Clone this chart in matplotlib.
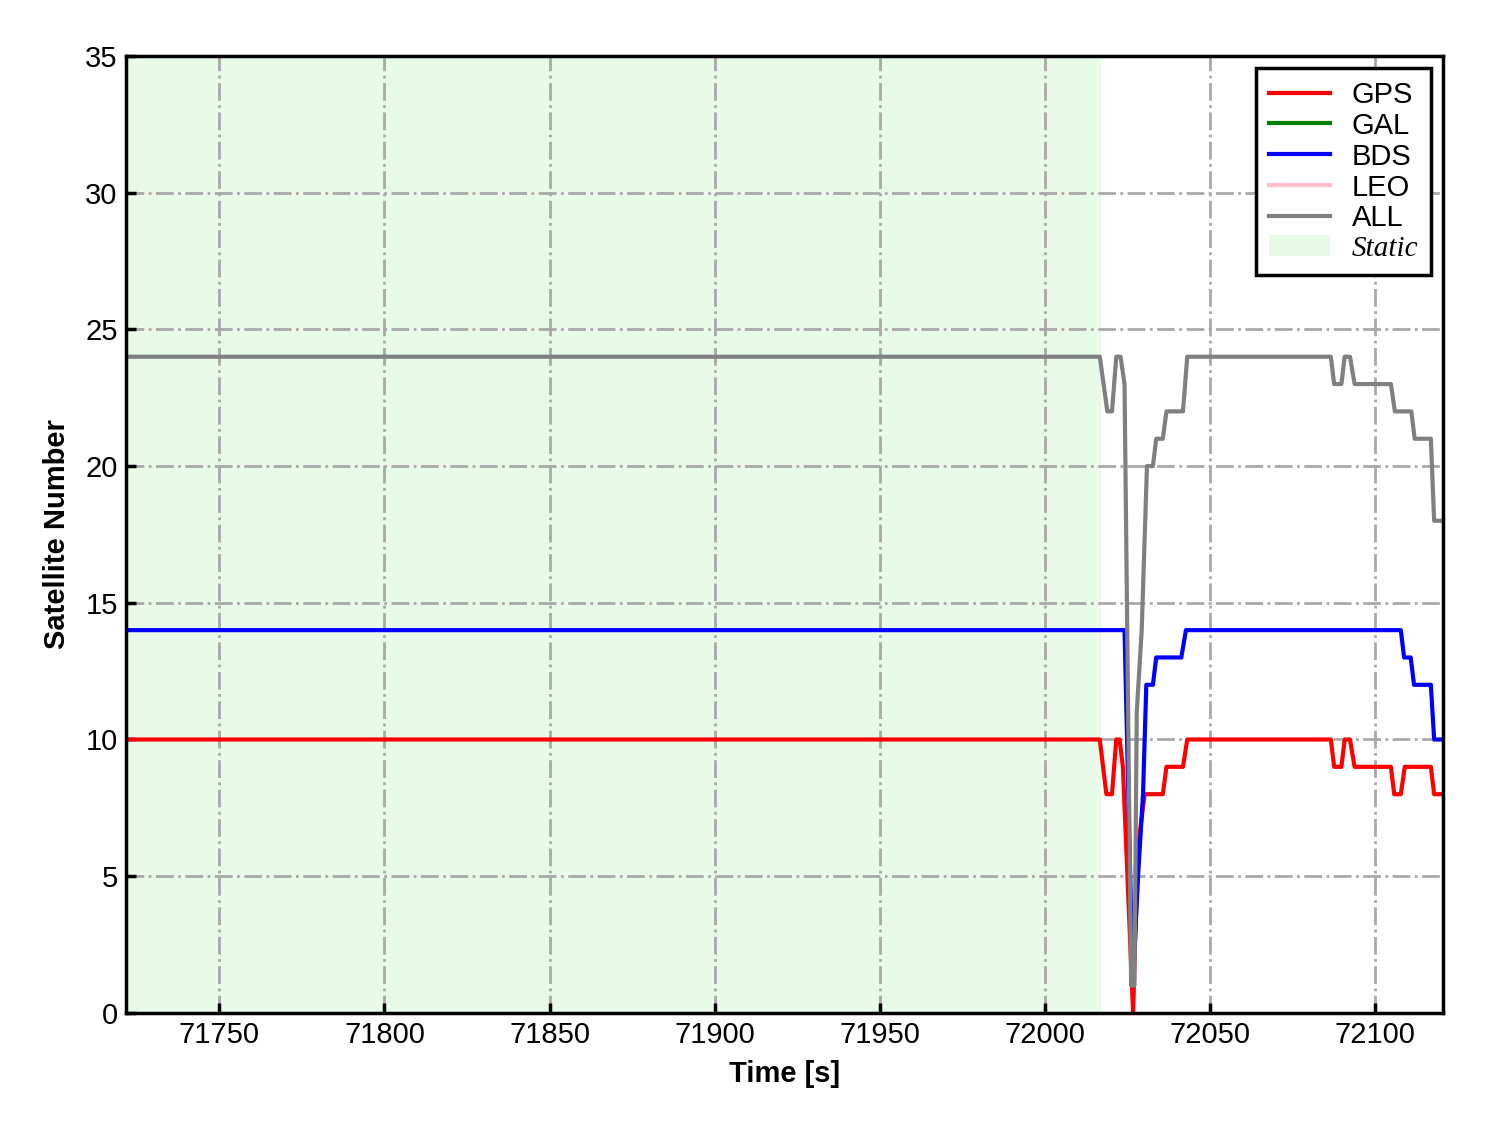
import numpy as np
import matplotlib
matplotlib.use('Agg')
import matplotlib.pyplot as plt
from matplotlib.patches import Patch
from matplotlib.lines import Line2D

plt.rcParams['font.family'] = ['Liberation Sans', 'DejaVu Sans']

# breakpoints (time [s], satellite count)
GPS_T = [71721.7, 72016.7, 72018.7, 72020.4, 72021.7, 72022.7, 72023.7, 72026.8, 72028.2, 72030.3,
         72035.8, 72036.9, 72041.9, 72043.2, 72086.7, 72087.7, 72089.9, 72090.9, 72092.5, 72093.9,
         72104.9, 72105.9, 72107.9, 72109.1, 72117.0, 72118.0, 72120.7]
GPS_N = [10, 10, 8, 8, 10, 10, 9, 0, 6, 8,
         8, 9, 9, 10, 10, 9, 9, 10, 10, 9,
         9, 8, 8, 9, 9, 8, 8]

GAL_T = []
GAL_N = []

BDS_T = [71721.7, 72024.2, 72026.7, 72028.3, 72029.8, 72030.8, 72032.8, 72033.8, 72041.4, 72042.8,
         72107.9, 72108.9, 72110.9, 72111.9, 72117.0, 72118.0, 72120.7]
BDS_N = [14, 14, 1, 5, 8, 12, 12, 13, 13, 14,
         14, 13, 13, 12, 12, 10, 10]

LEO_T = []
LEO_N = []

ALL_T = [71721.7, 72016.7, 72019.0, 72020.4, 72021.7, 72023.0, 72024.2, 72026.2, 72027.2, 72027.9,
         72029.4, 72031.0, 72032.8, 72033.8, 72035.8, 72036.9, 72041.9, 72043.2, 72086.7, 72087.7,
         72089.9, 72090.9, 72092.5, 72093.9, 72104.9, 72106.1, 72111.1, 72112.1, 72117.0, 72118.0,
         72120.7]
ALL_N = [24, 24, 22, 22, 24, 24, 23, 1, 1, 11,
         14, 20, 20, 21, 21, 22, 22, 24, 24, 23,
         23, 24, 24, 23, 23, 22, 22, 21, 21, 18,
         18]

STATIC_SPAN = (71721.7, 72017.2)
X_TICKS = [71750, 71800, 71850, 71900, 71950, 72000, 72050, 72100]
Y_TICKS = [0, 5, 10, 15, 20, 25, 30, 35]

fig = plt.figure(figsize=(14.88, 11.33), dpi=100)
ax = fig.add_axes([0.0847, 0.106, 0.8851, 0.8446])

ax.axvspan(STATIC_SPAN[0], STATIC_SPAN[1], color='lightgreen', alpha=0.2, lw=0, zorder=0)

lw = 3.0
ax.plot(GPS_T, GPS_N, color='red', lw=lw, label='GPS')
ax.plot(GAL_T, GAL_N, color='green', lw=lw, label='GAL')
ax.plot(BDS_T, BDS_N, color='blue', lw=lw, label='BDS')
ax.plot(LEO_T, LEO_N, color='pink', lw=lw, label='LEO')
ax.plot(ALL_T, ALL_N, color='gray', lw=lw, label='ALL')

ax.set_xlim(71721.7, 72120.7)
ax.set_ylim(0, 35)
ax.set_xticks(X_TICKS)
ax.set_yticks(Y_TICKS)
ax.grid(True, color='darkgray', linestyle='-.', lw=2)
ax.set_axisbelow(True)

for s in ax.spines.values():
    s.set_linewidth(2.5)
    s.set_color('black')
ax.tick_params(direction='in', length=7, width=2.5, labelsize=21, pad=6)

ax.set_xlabel('Time [s]', fontsize=21, fontweight='bold', labelpad=8)
ax.set_ylabel('Satellite Number', fontsize=21, fontweight='bold', labelpad=10)

handles = [
    Line2D([], [], color='red', lw=lw),
    Line2D([], [], color='green', lw=lw),
    Line2D([], [], color='blue', lw=lw),
    Line2D([], [], color='pink', lw=lw),
    Line2D([], [], color='gray', lw=lw),
    Patch(facecolor='lightgreen', alpha=0.2, edgecolor='none'),
]
labels = ['GPS', 'GAL', 'BDS', 'LEO', 'ALL', 'Static']
leg = ax.legend(handles, labels, loc='upper right', fontsize=21, fancybox=False,
                framealpha=1, edgecolor='black', labelspacing=0.1,
                handlelength=2.1, handletextpad=0.75, borderaxespad=0.4, borderpad=0.45)
leg.get_frame().set_linewidth(2.5)
leg.get_texts()[-1].set_family(['Liberation Serif', 'DejaVu Serif'])
leg.get_texts()[-1].set_style('italic')

fig.savefig('out.png', dpi=100)
